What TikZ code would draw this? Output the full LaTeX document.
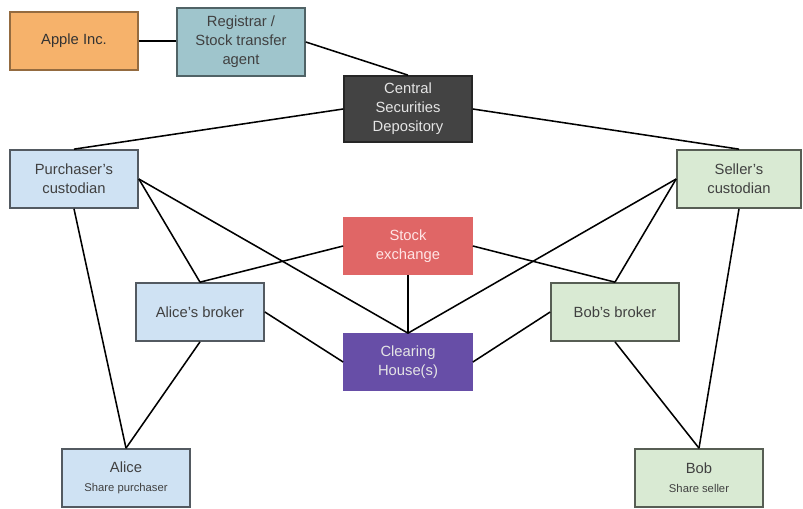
\documentclass[tikz,border=0pt]{standalone}
\usepackage{fontspec}
\setmainfont{Liberation Sans}
\definecolor{appleorange}{HTML}{F6B26B}
\definecolor{regteal}{HTML}{9FC5CC}
\definecolor{csdgray}{HTML}{434343}
\definecolor{buyblue}{HTML}{CFE2F3}
\definecolor{sellgreen}{HTML}{D9EAD3}
\definecolor{exred}{HTML}{E06666}
\definecolor{clearpurple}{HTML}{674EA7}
\newcommand{\sharerole}[1]{{\fontsize{8}{9.5}\selectfont #1}}
\begin{document}
\begin{tikzpicture}[
    x=0.025cm, y=-0.025cm, line width=1.1pt,
    party/.style={rectangle, draw, line width=1.2pt, align=center, inner sep=2pt,
      minimum width=3.2cm, minimum height=1.45cm,
      font=\fontsize{10.5}{13.5}\selectfont}
  ]
  \useasboundingbox (0,0) rectangle (803,508);
  \node[party, fill=appleorange, draw=appleorange!60!black, text=black!80] (apple) at (74,41) {Apple Inc.};
  \node[party, fill=regteal, draw=regteal!50!black, text=black!75, minimum height=1.7cm] (registrar) at (241,42) {Registrar /\\Stock transfer\\agent};
  \node[party, fill=csdgray, draw=black!85, text=white!90!black, minimum height=1.65cm] (csd) at (408,109) {Central\\Securities\\Depository};
  \node[party, fill=buyblue, draw=buyblue!40!black, text=black!75] (pcust) at (74,179) {Purchaser's\\custodian};
  \node[party, fill=sellgreen, draw=sellgreen!40!black, text=black!75, minimum width=3.1cm] (scust) at (739,179) {Seller's\\custodian};
  \node[party, fill=exred, draw=exred, text=white!90!red, minimum height=1.4cm] (exchange) at (408,246) {Stock\\exchange};
  \node[party, fill=buyblue, draw=buyblue!40!black, text=black!75] (abroker) at (200,312) {Alice's broker};
  \node[party, fill=sellgreen, draw=sellgreen!40!black, text=black!75] (bbroker) at (615,312) {Bob's broker};
  \node[party, fill=clearpurple, draw=clearpurple, text=white!90!black, minimum height=1.4cm] (clearing) at (408,362) {Clearing\\House(s)};
  \node[party, fill=buyblue, draw=buyblue!40!black, text=black!75] (alice) at (126,478) {Alice\\\sharerole{Share purchaser}};
  \node[party, fill=sellgreen, draw=sellgreen!40!black, text=black!75] (bob) at (699,478) {Bob\\\sharerole{Share seller}};

  \draw (apple.east) -- (apple.east -| registrar.west);
  \draw (registrar.east) -- (csd.north);
  \draw (csd.west) -- (pcust.north);
  \draw (csd.east) -- (scust.north);
  \draw (pcust.east) -- (abroker.north);
  \draw (pcust.east) -- (clearing.north);
  \draw (pcust.south) -- (alice.north);
  \draw (abroker.south) -- (alice.north);
  \draw (abroker.north) -- (exchange.west);
  \draw (abroker.east) -- (clearing.west);
  \draw (exchange) -- (clearing);
  \draw (exchange.east) -- (bbroker.north);
  \draw (scust.west) -- (clearing.north);
  \draw (scust.west) -- (bbroker.north);
  \draw (scust.south) -- (bob.north);
  \draw (bbroker.west) -- (clearing.east);
  \draw (bbroker.south) -- (bob.north);
\end{tikzpicture}
\end{document}
